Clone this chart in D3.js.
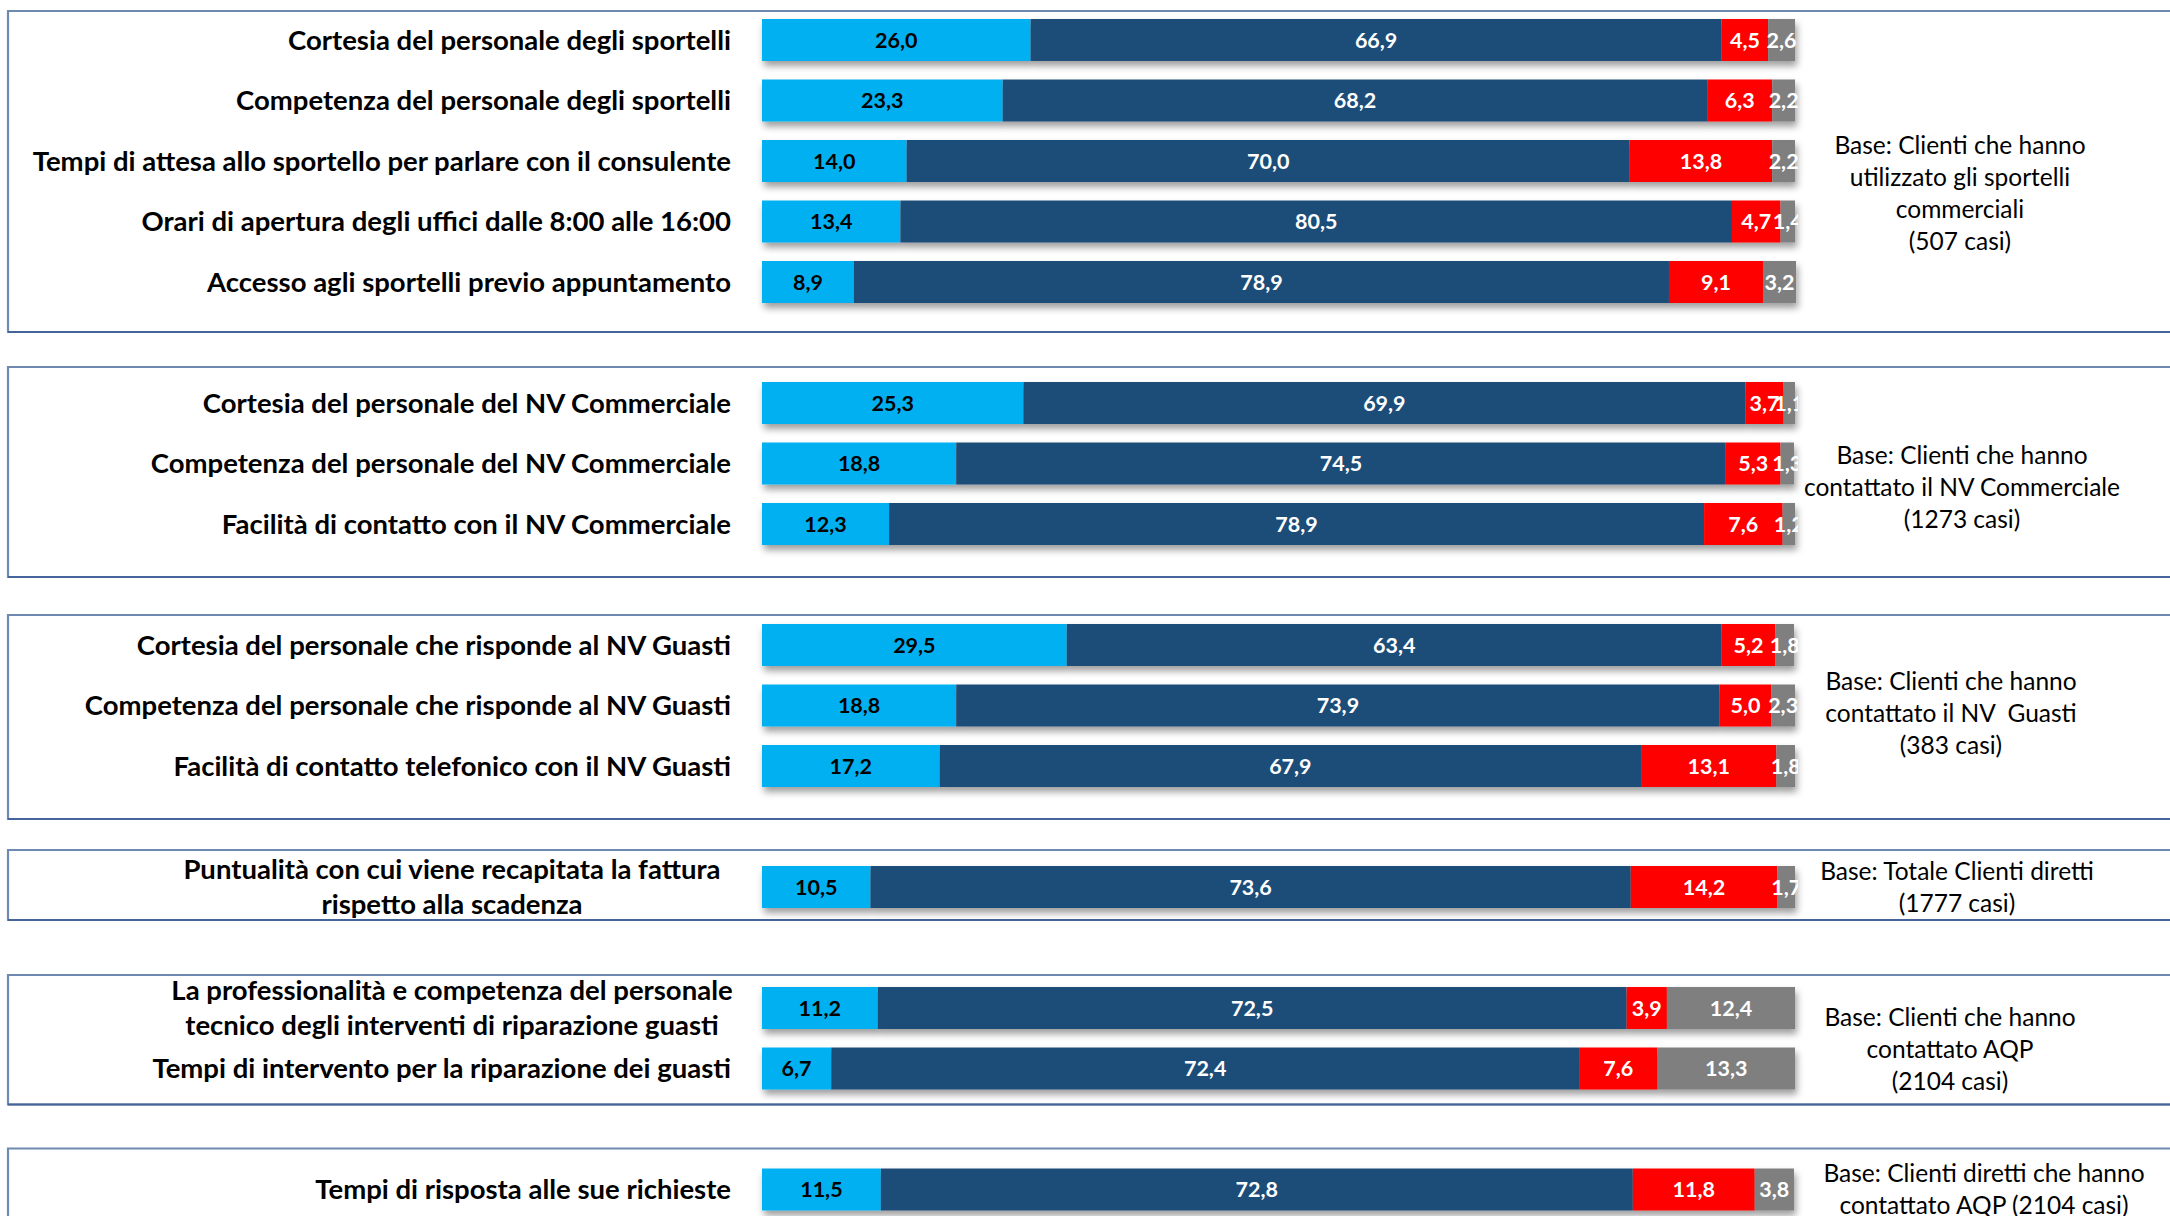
<!DOCTYPE html>
<html>
<head>
<meta charset="utf-8">
<script src="https://cdn.jsdelivr.net/npm/d3@7"></script>
<style>
  html, body { margin: 0; padding: 0; background: #ffffff; }
  svg { display: block; }
</style>
</head>
<body>
<svg id="chart" width="2170" height="1216"></svg>
<script>
// ---------------- DATA ----------------
const categories = [
  ["Cortesia del personale degli sportelli"],
  ["Competenza del personale degli sportelli"],
  ["Tempi di attesa allo sportello per parlare con il consulente"],
  ["Orari di apertura degli uffici dalle 8:00 alle 16:00"],
  ["Accesso agli sportelli previo appuntamento"],
  ["Cortesia del personale del NV Commerciale"],
  ["Competenza del personale del NV Commerciale"],
  ["Facilità di contatto con il NV Commerciale"],
  ["Cortesia del personale che risponde al NV Guasti"],
  ["Competenza del personale che risponde al NV Guasti"],
  ["Facilità di contatto telefonico con il NV Guasti"],
  ["Puntualità con cui viene recapitata la fattura", "rispetto alla scadenza"],
  ["La professionalità e competenza del personale", "tecnico degli interventi di riparazione guasti"],
  ["Tempi di intervento per la riparazione dei guasti"],
  ["Tempi di risposta alle sue richieste"]
];
const molto      = [26.0, 23.3, 14.0, 13.4, 8.9, 25.3, 18.8, 12.3, 29.5, 18.8, 17.2, 10.5, 11.2, 6.7, 11.5];
const abbastanza = [66.9, 68.2, 70.0, 80.5, 78.9, 69.9, 74.5, 78.9, 63.4, 73.9, 67.9, 73.6, 72.5, 72.4, 72.8];
const poco       = [4.5, 6.3, 13.8, 4.7, 9.1, 3.7, 5.3, 7.6, 5.2, 5.0, 13.1, 14.2, 3.9, 7.6, 11.8];
const perNiente  = [2.6, 2.2, 2.2, 1.4, 3.2, 1.1, 1.3, 1.2, 1.8, 2.3, 1.8, 1.7, 12.4, 13.3, 3.8];
const seriesNames = ["molto", "abbastanza", "poco", "perNiente"];
// panels: index of first and last category in each boxed group
const panelRows = [[0, 4], [5, 7], [8, 10], [11, 11], [12, 13], [14, 14]];
const panelNotes = [
  ["Base: Clienti che hanno", "utilizzato gli sportelli", "commerciali", "(507 casi)"],
  ["Base: Clienti che hanno", "contattato il NV Commerciale", "(1273 casi)"],
  ["Base: Clienti che hanno", "contattato il NV  Guasti", "(383 casi)"],
  ["Base: Totale Clienti diretti", "(1777 casi)"],
  ["Base: Clienti che hanno", "contattato AQP", "(2104 casi)"],
  ["Base: Clienti diretti che hanno", "contattato AQP (2104 casi)"]
];

// ---------------- STYLE / LAYOUT ----------------
const colors = { molto: "#00b0f0", abbastanza: "#1f4e79", poco: "#ff0000", perNiente: "#7f7f7f" };
const textColors = { molto: "#000000", abbastanza: "#ffffff", poco: "#ffffff", perNiente: "#ffffff" };
const FONT = "Lato, 'Noto Sans', 'DejaVu Sans', sans-serif";
// box padding above first bar / below last bar, per panel
const boxPad = [[8, 29], [15, 32], [9, 32], [16, 12], [12, 15], [20, 60]];
// note centre x and vertical shift (relative to bar-group centre)
const notePos = [[1960, 32], [1962, 24], [1951, 8], [1957, 0], [1950, 11], [1984, 0]];
const labelRight = 731;

const svg = d3.select("#chart");
const W = 2170, H = 1216;

// slot domain: rows plus a spacer between panels
const slots = [];
panelRows.forEach((p, pi) => {
  for (let i = p[0]; i <= p[1]; i++) slots.push("r" + i);
  if (pi < panelRows.length - 1) slots.push("gap" + pi);
});

const y = d3.scaleBand().domain(slots).range([19, 1210.5]).paddingInner(0.306).paddingOuter(0);
const x = d3.scaleLinear().domain([0, 100]).range([762, 1795]);

const rows = categories.map((c, i) => {
  const vals = [molto[i], abbastanza[i], poco[i], perNiente[i]];
  let acc = 0;
  const segs = vals.map((v, k) => {
    const s = { key: seriesNames[k], v, x0: acc, x1: acc + v };
    acc += v;
    return s;
  });
  return { i, label: c, segs };
});

const defs = svg.append("defs");
const f = defs.append("filter").attr("id", "shadow")
  .attr("x", "-5%").attr("y", "-30%").attr("width", "110%").attr("height", "180%");
f.append("feDropShadow").attr("dx", 2).attr("dy", 5).attr("stdDeviation", 3.5)
  .attr("flood-color", "#000").attr("flood-opacity", 0.38);
defs.append("clipPath").attr("id", "plotClip").append("rect")
  .attr("x", x(0)).attr("y", 0).attr("width", x(100) - x(0) + 3).attr("height", H);

// panel boxes
const boxG = svg.append("g");
panelRows.forEach((p, pi) => {
  const top = y("r" + p[0]) - boxPad[pi][0];
  const bot = y("r" + p[1]) + y.bandwidth() + boxPad[pi][1];
  boxG.append("path")
    .attr("d", `M${W + 10},${top} H8 V${bot} H${W + 10}`)
    .attr("fill", "none").attr("stroke", "#6f8ab0").attr("stroke-width", 2.2);
  boxG.append("line").attr("x1", 8).attr("x2", W + 10).attr("y1", bot).attr("y2", bot)
    .attr("stroke", "#44649a").attr("stroke-width", 2.2);
});

// bars
const barG = svg.append("g");
rows.forEach(r => {
  const g = barG.append("g").attr("filter", "url(#shadow)");
  g.selectAll("rect").data(r.segs).join("rect")
    .attr("x", d => x(d.x0))
    .attr("y", y("r" + r.i))
    .attr("width", d => x(d.x1) - x(d.x0))
    .attr("height", y.bandwidth())
    .attr("fill", d => colors[d.key]);
});

// value labels
const valG = svg.append("g").attr("clip-path", "url(#plotClip)");
const fmt = v => v.toFixed(1).replace(".", ",");
rows.forEach(r => {
  valG.selectAll(null).data(r.segs).join("text")
    .attr("x", d => (x(d.x0) + x(d.x1)) / 2)
    .attr("y", y("r" + r.i) + y.bandwidth() / 2)
    .attr("dy", "0.36em")
    .attr("text-anchor", "middle")
    .attr("font-family", FONT).attr("font-weight", 700).attr("font-size", 21.5)
    .attr("fill", d => textColors[d.key])
    .text(d => fmt(d.v));
});

// category labels
const labG = svg.append("g");
rows.forEach(r => {
  const cy = y("r" + r.i) + y.bandwidth() / 2;
  const multi = r.label.length > 1;
  const t = labG.append("text")
    .attr("font-family", FONT).attr("font-weight", 700).attr("font-size", 27.5)
    .attr("fill", "#000")
    .attr("text-anchor", multi ? "middle" : "end");
  const lx = multi ? 452 : labelRight;
  const lh = 35;
  r.label.forEach((line, li) => {
    t.append("tspan").attr("x", lx)
      .attr("y", cy + (li - (r.label.length - 1) / 2) * lh)
      .attr("dy", "0.36em").text(line);
  });
});

// notes
const noteG = svg.append("g");
panelRows.forEach((p, pi) => {
  const top = y("r" + p[0]);
  const bot = y("r" + p[1]) + y.bandwidth();
  const cy = (top + bot) / 2 + notePos[pi][1];
  const lines = panelNotes[pi];
  const lh = 32;
  const t = noteG.append("text")
    .attr("font-family", FONT).attr("font-size", 24.5).attr("fill", "#000")
    .attr("text-anchor", "middle");
  lines.forEach((line, li) => {
    t.append("tspan").attr("x", notePos[pi][0])
      .attr("y", cy + (li - (lines.length - 1) / 2) * lh)
      .attr("dy", "0.36em").attr("xml:space", "preserve").text(line);
  });
});
</script>
</body>
</html>
